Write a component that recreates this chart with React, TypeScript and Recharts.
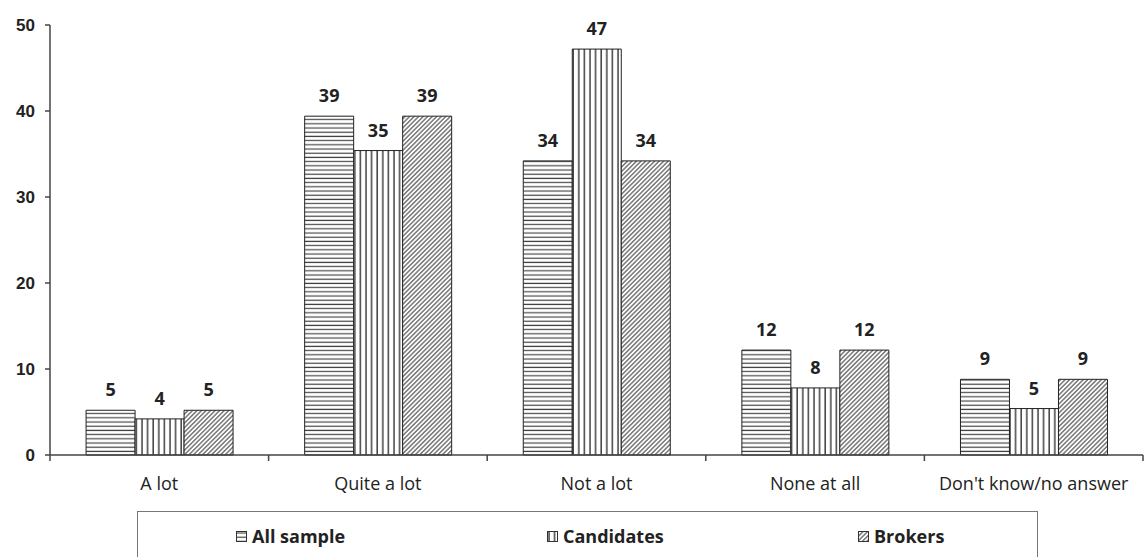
import { BarChart, Bar, XAxis, YAxis, LabelList } from 'recharts';

const categories = ['A lot', 'Quite a lot', 'Not a lot', 'None at all', "Don't know/no answer"];
const allSample = [5.2, 39.4, 34.2, 12.2, 8.8];
const candidates = [4.2, 35.4, 47.2, 7.8, 5.4];
const brokers = [5.2, 39.4, 34.2, 12.2, 8.8];
const yTicks = [0, 10, 20, 30, 40, 50];

const SERIES = [
  { key: 'all', name: 'All sample', fill: 'url(#hatchH)' },
  { key: 'cand', name: 'Candidates', fill: 'url(#hatchV)' },
  { key: 'brok', name: 'Brokers', fill: 'url(#hatchD)' },
];

const W = 1147;
const H = 557;
const MARGIN = { top: 25, right: 4, left: 0, bottom: 62 };
const Y_WIDTH = 50;
const BAND = (W - MARGIN.left - MARGIN.right - Y_WIDTH) / categories.length;

const rows = categories.map((c, i) => ({
  name: c,
  all: allSample[i],
  cand: candidates[i],
  brok: brokers[i],
}));

const LABEL_FONT = '"Open Sans", "Noto Sans", sans-serif';

// category label centred in its band, tick marks on the band edges
function CategoryTick(props: any) {
  const { x, y, payload, index } = props;
  const left = x - BAND / 2;
  return (
    <g>
      <line x1={left} y1={y - 8} x2={left} y2={y - 2} stroke="#444" strokeWidth={1.5} />
      {index === categories.length - 1 && (
        <line x1={x + BAND / 2} y1={y - 8} x2={x + BAND / 2} y2={y - 2} stroke="#444" strokeWidth={1.5} />
      )}
      <text x={x} y={y + 27} textAnchor="middle" fontSize={18} fill="#222" fontFamily={LABEL_FONT}>
        {payload.value}
      </text>
    </g>
  );
}

function Patterns() {
  return (
    <svg width={0} height={0} style={{ position: 'absolute' }}>
      <defs>
        <pattern id="hatchH" width={6} height={4.2} patternUnits="userSpaceOnUse">
          <rect width={6} height={4.2} fill="#fff" />
          <line x1={0} y1={2} x2={6} y2={2} stroke="#444" strokeWidth={1.2} />
        </pattern>
        <pattern id="hatchV" width={5.6} height={6} patternUnits="userSpaceOnUse">
          <rect width={5.6} height={6} fill="#fff" />
          <line x1={2} y1={0} x2={2} y2={6} stroke="#222" strokeWidth={1.3} />
        </pattern>
        <pattern id="hatchD" width={3.2} height={4} patternUnits="userSpaceOnUse" patternTransform="rotate(45)">
          <rect width={3.2} height={4} fill="#fff" />
          <line x1={0.8} y1={0} x2={0.8} y2={4} stroke="#444" strokeWidth={1.1} />
        </pattern>
      </defs>
    </svg>
  );
}

function LegendSwatch({ fill }: { fill: string }) {
  return (
    <svg width={11} height={11} style={{ marginRight: 5 }}>
      <rect x={0.5} y={0.5} width={10} height={10} fill={fill} stroke="#333" strokeWidth={1} />
    </svg>
  );
}

export default function App() {
  return (
    <div style={{ position: 'absolute', left: 0, top: 0, width: W, height: H, background: '#fff', overflow: 'hidden' }}>
      <Patterns />
      <BarChart width={W} height={H} data={rows} margin={MARGIN} barCategoryGap="16.5%" barGap={0}>
        <YAxis
          domain={[0, 50]}
          ticks={yTicks}
          width={Y_WIDTH}
          axisLine={{ stroke: '#444', strokeWidth: 1.5 }}
          tickLine={{ stroke: '#444', strokeWidth: 1.5 }}
          tickSize={5}
          tickMargin={10}
          tick={{ fontSize: 17, fontWeight: 700, fill: '#222', fontFamily: 'Liberation Sans, Arial, sans-serif' }}
        />
        <XAxis
          dataKey="name"
          axisLine={{ stroke: '#444', strokeWidth: 1.5 }}
          tickLine={false}
          tick={<CategoryTick />}
          height={40}
          interval={0}
        />
        {SERIES.map((s) => (
          <Bar key={s.key} dataKey={s.key} name={s.name} fill={s.fill} stroke="#222" strokeWidth={1} isAnimationActive={false}>
            <LabelList
              dataKey={s.key}
              position="top"
              offset={14}
              formatter={(v: any) => Math.round(Number(v))}
              style={{ fontSize: 18, fontWeight: 700, fill: '#222', fontFamily: LABEL_FONT }}
            />
          </Bar>
        ))}
      </BarChart>
      <div
        style={{
          position: 'absolute',
          left: 137,
          top: 511,
          width: 901,
          height: 60,
          border: '1.5px solid #777',
          boxSizing: 'border-box',
          fontFamily: LABEL_FONT,
          fontWeight: 700,
          fontSize: 18,
          color: '#222',
        }}
      >
        {SERIES.map((s, i) => (
          <div
            key={s.key}
            style={{ position: 'absolute', left: 98 + i * 311, top: 12, display: 'flex', alignItems: 'center' }}
          >
            <LegendSwatch fill={s.fill} />
            <span>{s.name}</span>
          </div>
        ))}
      </div>
    </div>
  );
}
